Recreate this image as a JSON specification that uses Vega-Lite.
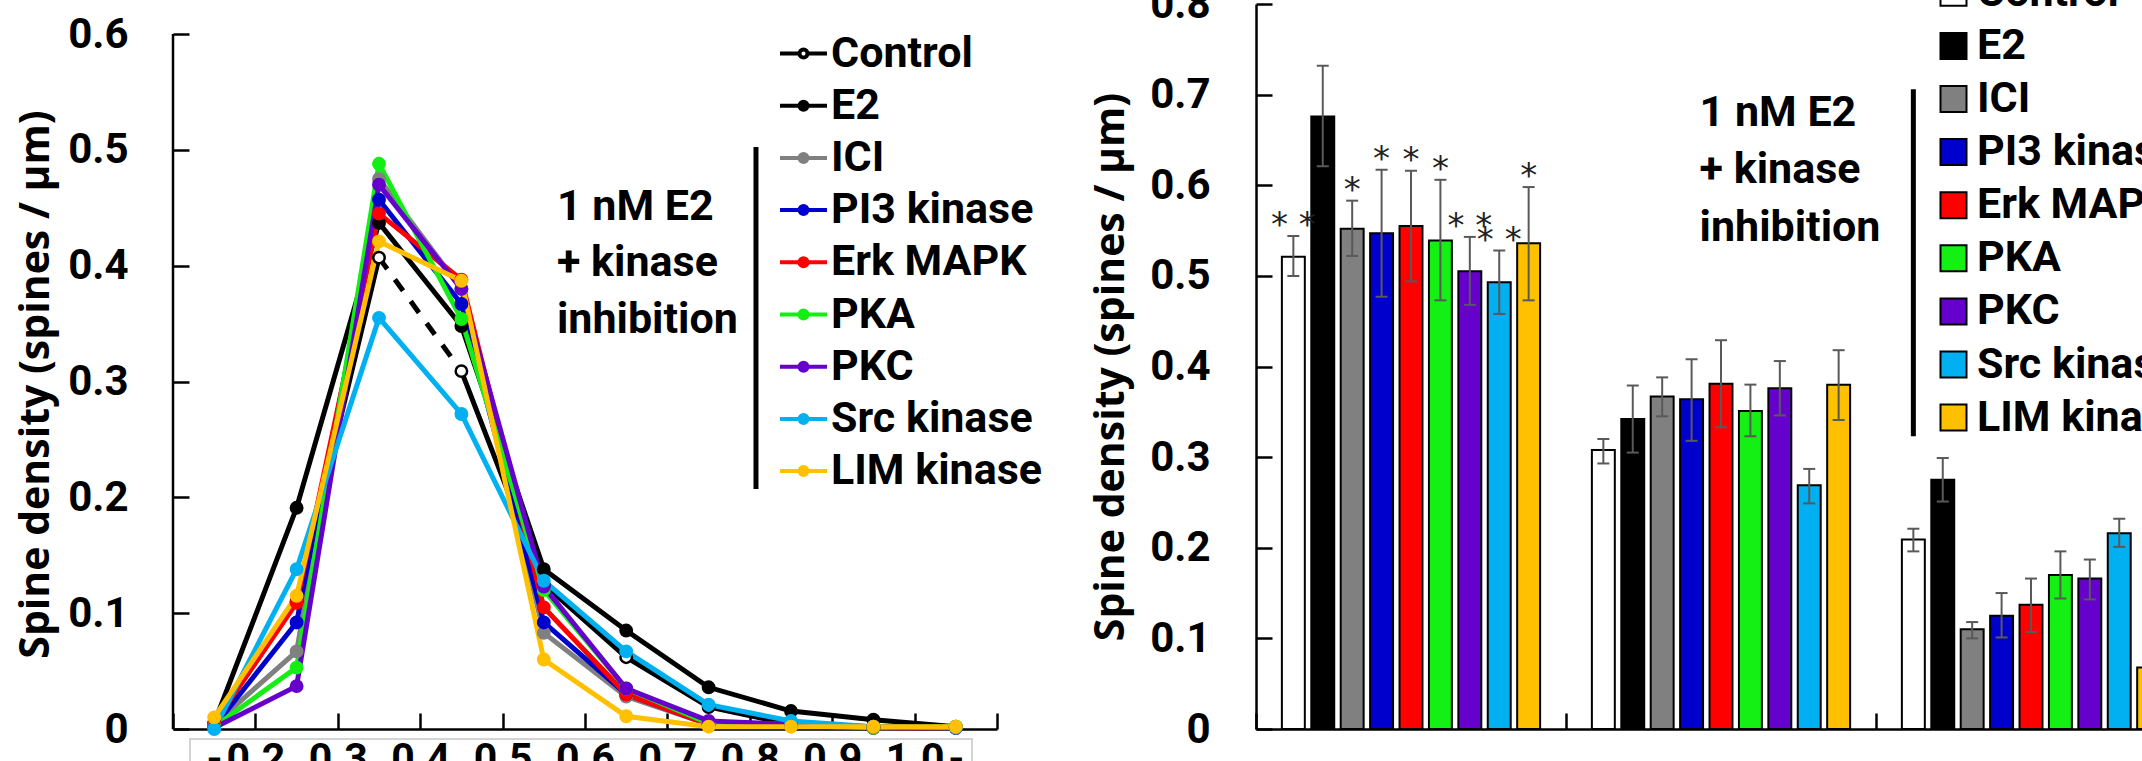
{
  "$schema": "https://vega.github.io/schema/vega-lite/v6.json",
  "autosize": {"type": "none"},
  "padding": {"left": 173, "top": 4, "right": 1969, "bottom": 757},
  "bounds": "flush",
  "spacing": 259,
  "background": "white",
  "config": {
    "view": {"stroke": null},
    "font": "Roboto",
    "axis": {"domainColor": "black", "domainWidth": 2.5, "tickColor": "black", "tickWidth": 2.5, "labelFont": "Roboto", "labelFontWeight": "bold", "labelColor": "black", "grid": false, "titleFont": "Open Sans", "titleFontWeight": "bold", "titleColor": "black"}
  },
  "resolve": {"scale": {"color": "independent"}, "legend": {"color": "independent"}},
  "datasets": {
    "curves": [
      {"series": "Control", "x": 0.15, "y": 0.005, "seg": "a"},
      {"series": "Control", "x": 0.25, "y": 0.11, "seg": "a"},
      {"series": "Control", "x": 0.35, "y": 0.407, "seg": "a"},
      {"series": "Control", "x": 0.45, "y": 0.309, "seg": "b"},
      {"series": "Control", "x": 0.55, "y": 0.125, "seg": "b"},
      {"series": "Control", "x": 0.65, "y": 0.062, "seg": "b"},
      {"series": "Control", "x": 0.75, "y": 0.019, "seg": "b"},
      {"series": "Control", "x": 0.85, "y": 0.004, "seg": "b"},
      {"series": "Control", "x": 0.95, "y": 0.002, "seg": "b"},
      {"series": "Control", "x": 1.05, "y": 0.001, "seg": "b"},
      {"series": "E2", "x": 0.15, "y": 0.005, "seg": "a"},
      {"series": "E2", "x": 0.25, "y": 0.191, "seg": "a"},
      {"series": "E2", "x": 0.35, "y": 0.437, "seg": "a"},
      {"series": "E2", "x": 0.45, "y": 0.348, "seg": "a"},
      {"series": "E2", "x": 0.55, "y": 0.138, "seg": "a"},
      {"series": "E2", "x": 0.65, "y": 0.085, "seg": "a"},
      {"series": "E2", "x": 0.75, "y": 0.036, "seg": "a"},
      {"series": "E2", "x": 0.85, "y": 0.0155, "seg": "a"},
      {"series": "E2", "x": 0.95, "y": 0.008, "seg": "a"},
      {"series": "E2", "x": 1.05, "y": 0.002, "seg": "a"},
      {"series": "ICI", "x": 0.15, "y": 0.004, "seg": "a"},
      {"series": "ICI", "x": 0.25, "y": 0.067, "seg": "a"},
      {"series": "ICI", "x": 0.35, "y": 0.475, "seg": "a"},
      {"series": "ICI", "x": 0.45, "y": 0.38, "seg": "a"},
      {"series": "ICI", "x": 0.55, "y": 0.083, "seg": "a"},
      {"series": "ICI", "x": 0.65, "y": 0.028, "seg": "a"},
      {"series": "ICI", "x": 0.75, "y": 0.004, "seg": "a"},
      {"series": "ICI", "x": 0.85, "y": 0.003, "seg": "a"},
      {"series": "ICI", "x": 0.95, "y": 0.001, "seg": "a"},
      {"series": "ICI", "x": 1.05, "y": 0.001, "seg": "a"},
      {"series": "PI3 kinase", "x": 0.15, "y": 0.002, "seg": "a"},
      {"series": "PI3 kinase", "x": 0.25, "y": 0.092, "seg": "a"},
      {"series": "PI3 kinase", "x": 0.35, "y": 0.457, "seg": "a"},
      {"series": "PI3 kinase", "x": 0.45, "y": 0.367, "seg": "a"},
      {"series": "PI3 kinase", "x": 0.55, "y": 0.092, "seg": "a"},
      {"series": "PI3 kinase", "x": 0.65, "y": 0.03, "seg": "a"},
      {"series": "PI3 kinase", "x": 0.75, "y": 0.004, "seg": "a"},
      {"series": "PI3 kinase", "x": 0.85, "y": 0.003, "seg": "a"},
      {"series": "PI3 kinase", "x": 0.95, "y": 0.001, "seg": "a"},
      {"series": "PI3 kinase", "x": 1.05, "y": 0.001, "seg": "a"},
      {"series": "Erk MAPK", "x": 0.15, "y": 0.005, "seg": "a"},
      {"series": "Erk MAPK", "x": 0.25, "y": 0.109, "seg": "a"},
      {"series": "Erk MAPK", "x": 0.35, "y": 0.445, "seg": "a"},
      {"series": "Erk MAPK", "x": 0.45, "y": 0.388, "seg": "a"},
      {"series": "Erk MAPK", "x": 0.55, "y": 0.105, "seg": "a"},
      {"series": "Erk MAPK", "x": 0.65, "y": 0.03, "seg": "a"},
      {"series": "Erk MAPK", "x": 0.75, "y": 0.004, "seg": "a"},
      {"series": "Erk MAPK", "x": 0.85, "y": 0.003, "seg": "a"},
      {"series": "Erk MAPK", "x": 0.95, "y": 0.001, "seg": "a"},
      {"series": "Erk MAPK", "x": 1.05, "y": 0.001, "seg": "a"},
      {"series": "PKA", "x": 0.15, "y": 0.002, "seg": "a"},
      {"series": "PKA", "x": 0.25, "y": 0.053, "seg": "a"},
      {"series": "PKA", "x": 0.35, "y": 0.488, "seg": "a"},
      {"series": "PKA", "x": 0.45, "y": 0.354, "seg": "a"},
      {"series": "PKA", "x": 0.55, "y": 0.12, "seg": "a"},
      {"series": "PKA", "x": 0.65, "y": 0.035, "seg": "a"},
      {"series": "PKA", "x": 0.75, "y": 0.005, "seg": "a"},
      {"series": "PKA", "x": 0.85, "y": 0.004, "seg": "a"},
      {"series": "PKA", "x": 0.95, "y": 0.001, "seg": "a"},
      {"series": "PKA", "x": 1.05, "y": 0.002, "seg": "a"},
      {"series": "PKC", "x": 0.15, "y": 0.001, "seg": "a"},
      {"series": "PKC", "x": 0.25, "y": 0.037, "seg": "a"},
      {"series": "PKC", "x": 0.35, "y": 0.47, "seg": "a"},
      {"series": "PKC", "x": 0.45, "y": 0.38, "seg": "a"},
      {"series": "PKC", "x": 0.55, "y": 0.123, "seg": "a"},
      {"series": "PKC", "x": 0.65, "y": 0.035, "seg": "a"},
      {"series": "PKC", "x": 0.75, "y": 0.007, "seg": "a"},
      {"series": "PKC", "x": 0.85, "y": 0.004, "seg": "a"},
      {"series": "PKC", "x": 0.95, "y": 0.002, "seg": "a"},
      {"series": "PKC", "x": 1.05, "y": 0.001, "seg": "a"},
      {"series": "Src kinase", "x": 0.15, "y": 0.0, "seg": "a"},
      {"series": "Src kinase", "x": 0.25, "y": 0.138, "seg": "a"},
      {"series": "Src kinase", "x": 0.35, "y": 0.355, "seg": "a"},
      {"series": "Src kinase", "x": 0.45, "y": 0.272, "seg": "a"},
      {"series": "Src kinase", "x": 0.55, "y": 0.128, "seg": "a"},
      {"series": "Src kinase", "x": 0.65, "y": 0.067, "seg": "a"},
      {"series": "Src kinase", "x": 0.75, "y": 0.021, "seg": "a"},
      {"series": "Src kinase", "x": 0.85, "y": 0.007, "seg": "a"},
      {"series": "Src kinase", "x": 0.95, "y": 0.002, "seg": "a"},
      {"series": "Src kinase", "x": 1.05, "y": 0.001, "seg": "a"},
      {"series": "LIM kinase", "x": 0.15, "y": 0.01, "seg": "a"},
      {"series": "LIM kinase", "x": 0.25, "y": 0.115, "seg": "a"},
      {"series": "LIM kinase", "x": 0.35, "y": 0.421, "seg": "a"},
      {"series": "LIM kinase", "x": 0.45, "y": 0.387, "seg": "a"},
      {"series": "LIM kinase", "x": 0.55, "y": 0.06, "seg": "a"},
      {"series": "LIM kinase", "x": 0.65, "y": 0.011, "seg": "a"},
      {"series": "LIM kinase", "x": 0.75, "y": 0.002, "seg": "a"},
      {"series": "LIM kinase", "x": 0.85, "y": 0.002, "seg": "a"},
      {"series": "LIM kinase", "x": 0.95, "y": 0.002, "seg": "a"},
      {"series": "LIM kinase", "x": 1.05, "y": 0.002, "seg": "a"}
    ],
    "bars": [
      {"group": "Thin", "series": "Control", "value": 0.521, "lo": 0.5, "hi": 0.544, "sig": "* *"},
      {"group": "Thin", "series": "E2", "value": 0.676, "lo": 0.621, "hi": 0.732, "sig": ""},
      {"group": "Thin", "series": "ICI", "value": 0.552, "lo": 0.522, "hi": 0.583, "sig": "*"},
      {"group": "Thin", "series": "PI3 kinase", "value": 0.547, "lo": 0.477, "hi": 0.617, "sig": "*"},
      {"group": "Thin", "series": "Erk MAPK", "value": 0.555, "lo": 0.494, "hi": 0.616, "sig": "*"},
      {"group": "Thin", "series": "PKA", "value": 0.539, "lo": 0.473, "hi": 0.606, "sig": "*"},
      {"group": "Thin", "series": "PKC", "value": 0.505, "lo": 0.468, "hi": 0.543, "sig": "* *"},
      {"group": "Thin", "series": "Src kinase", "value": 0.493, "lo": 0.458, "hi": 0.528, "sig": "* *"},
      {"group": "Thin", "series": "LIM kinase", "value": 0.536, "lo": 0.473, "hi": 0.598, "sig": "*"},
      {"group": "Mushroom", "series": "Control", "value": 0.308, "lo": 0.293, "hi": 0.32, "sig": ""},
      {"group": "Mushroom", "series": "E2", "value": 0.342, "lo": 0.305, "hi": 0.379, "sig": ""},
      {"group": "Mushroom", "series": "ICI", "value": 0.367, "lo": 0.345, "hi": 0.388, "sig": ""},
      {"group": "Mushroom", "series": "PI3 kinase", "value": 0.364, "lo": 0.318, "hi": 0.408, "sig": ""},
      {"group": "Mushroom", "series": "Erk MAPK", "value": 0.381, "lo": 0.333, "hi": 0.429, "sig": ""},
      {"group": "Mushroom", "series": "PKA", "value": 0.351, "lo": 0.323, "hi": 0.38, "sig": ""},
      {"group": "Mushroom", "series": "PKC", "value": 0.376, "lo": 0.346, "hi": 0.406, "sig": ""},
      {"group": "Mushroom", "series": "Src kinase", "value": 0.269, "lo": 0.249, "hi": 0.287, "sig": ""},
      {"group": "Mushroom", "series": "LIM kinase", "value": 0.38, "lo": 0.341, "hi": 0.418, "sig": ""},
      {"group": "Stubby", "series": "Control", "value": 0.209, "lo": 0.196, "hi": 0.221, "sig": ""},
      {"group": "Stubby", "series": "E2", "value": 0.275, "lo": 0.251, "hi": 0.299, "sig": ""},
      {"group": "Stubby", "series": "ICI", "value": 0.11, "lo": 0.1, "hi": 0.118, "sig": ""},
      {"group": "Stubby", "series": "PI3 kinase", "value": 0.125, "lo": 0.101, "hi": 0.15, "sig": ""},
      {"group": "Stubby", "series": "Erk MAPK", "value": 0.137, "lo": 0.107, "hi": 0.166, "sig": ""},
      {"group": "Stubby", "series": "PKA", "value": 0.17, "lo": 0.144, "hi": 0.196, "sig": ""},
      {"group": "Stubby", "series": "PKC", "value": 0.166, "lo": 0.143, "hi": 0.187, "sig": ""},
      {"group": "Stubby", "series": "Src kinase", "value": 0.216, "lo": 0.201, "hi": 0.232, "sig": ""},
      {"group": "Stubby", "series": "LIM kinase", "value": 0.068, "lo": 0.055, "hi": 0.081, "sig": ""}
    ]
  },
  "hconcat": [
    {
      "width": 824,
      "height": 725,
      "layer": [
        {
          "data": {"name": "curves"},
          "mark": {"type": "line", "strokeWidth": 5},
          "encoding": {
            "x": {"field": "x", "type": "quantitative",
              "scale": {"domain": [0.1, 1.1], "nice": false, "zero": false},
              "axis": {
                "title": null,
                "values": [0.1, 0.15, 0.2, 0.3, 0.4, 0.5, 0.6, 0.7, 0.8, 0.9, 1.0, 1.05, 1.1],
                "labelExpr": "(datum.value < 0.12 || datum.value > 1.08) ? '' : ((abs(datum.value - 0.15) < 0.001 || abs(datum.value - 1.05) < 0.001) ? '-' : format(datum.value, '.1f'))",
                "tickOpacity": {"condition": {"test": "abs(datum.value - 0.15) < 0.001 || abs(datum.value - 1.05) < 0.001", "value": 0}, "value": 1},
                "tickSize": -16,
                "labelPadding": 26,
                "labelFontSize": 41,
                "labelFlush": false,
                "labelOverlap": false,
                "labelBound": false
              }
            },
            "y": {"field": "y", "type": "quantitative",
              "scale": {"domain": [0, 0.626], "nice": false},
              "axis": {
                "values": [0, 0.1, 0.2, 0.3, 0.4, 0.5, 0.6],
                "domain": false,
                "tickSize": -16,
                "labelPadding": 61,
                "labelFontSize": 42,
                "labelExpr": "datum.value == 0 ? '0' : format(datum.value, '.1f')",
                "title": "Spine density (spines / µm)",
                "titleFontSize": 41,
                "titleX": -125,
                "titleY": 380,
                "titleBaseline": "alphabetic"
              }
            },
            "color": {"field": "series", "type": "nominal",
              "scale": {"domain": ["Control", "E2", "ICI", "PI3 kinase", "Erk MAPK", "PKA", "PKC", "Src kinase", "LIM kinase"],
                        "range": ["#000000", "#000000", "#808080", "#0000cc", "#ff0000", "#14ee14", "#6600cc", "#00b0f0", "#ffc000"]},
              "legend": {
                "orient": "none", "legendX": 605, "legendY": 24, "title": null, "padding": 0,
                "symbolType": "M-1,0H-0.17M0.17,0H1M-0.17,0A0.17,0.17,0,1,1,0.17,0A0.17,0.17,0,1,1,-0.17,0Z",
                "symbolSize": 2209, "symbolStrokeWidth": 4,
                "labelFont": "Roboto", "labelFontWeight": "bold", "labelFontSize": 43, "labelColor": "black",
                "labelOffset": 2, "rowPadding": 4.2, "labelLimit": 0,
                "encode": {"symbols": {"update": {"fill": {"signal": "['white','black','#808080','#0000cc','#ff0000','#14ee14','#6600cc','#00b0f0','#ffc000'][indexof(['Control','E2','ICI','PI3 kinase','Erk MAPK','PKA','PKC','Src kinase','LIM kinase'], datum.value)]"}, "opacity": {"value": 1}}}}
              }
            },
            "detail": {"field": "seg"}
          }
        },
        {
          "data": {"name": "curves"},
          "transform": [{"filter": "datum.series === 'Control' && (abs(datum.x - 0.35) < 0.001 || abs(datum.x - 0.45) < 0.001)"}],
          "mark": {"type": "line", "color": "black", "strokeWidth": 5, "strokeDash": [14, 13]},
          "encoding": {
            "x": {"field": "x", "type": "quantitative"},
            "y": {"field": "y", "type": "quantitative"}
          }
        },
        {
          "data": {"name": "curves"},
          "mark": {"type": "point", "shape": "circle", "filled": true, "size": 130, "strokeWidth": 2.5, "opacity": 1},
          "encoding": {
            "x": {"field": "x", "type": "quantitative"},
            "y": {"field": "y", "type": "quantitative"},
            "fill": {"field": "series", "type": "nominal", "legend": null,
              "scale": {"domain": ["Control", "E2", "ICI", "PI3 kinase", "Erk MAPK", "PKA", "PKC", "Src kinase", "LIM kinase"],
                        "range": ["#ffffff", "#000000", "#808080", "#0000cc", "#ff0000", "#14ee14", "#6600cc", "#00b0f0", "#ffc000"]}},
            "stroke": {"field": "series", "type": "nominal", "legend": null,
              "scale": {"domain": ["Control", "E2", "ICI", "PI3 kinase", "Erk MAPK", "PKA", "PKC", "Src kinase", "LIM kinase"],
                        "range": ["#000000", "#000000", "#808080", "#0000cc", "#ff0000", "#14ee14", "#6600cc", "#00b0f0", "#ffc000"]}}
          }
        },
        {
          "data": {"values": [{"x": 0.1, "y": 0, "y2": 0.6}]},
          "mark": {"type": "rule", "strokeWidth": 2.5, "color": "black"},
          "encoding": {
            "x": {"field": "x", "type": "quantitative"},
            "y": {"field": "y", "type": "quantitative"},
            "y2": {"field": "y2"}
          }
        },
        {
          "data": {"values": [{"x": 0.8075, "y": 0.5025, "y2": 0.2072}]},
          "mark": {"type": "rule", "strokeWidth": 5, "color": "black"},
          "encoding": {
            "x": {"field": "x", "type": "quantitative"},
            "y": {"field": "y", "type": "quantitative"},
            "y2": {"field": "y2"}
          }
        },
        {
          "data": {"values": [{"x": 0.566, "y": 0.4691, "label": "1 nM E2\n+ kinase\ninhibition"}]},
          "mark": {"type": "text", "align": "left", "baseline": "top", "lineBreak": "\n", "lineHeight": 56.5, "fontSize": 43, "fontWeight": "bold", "font": "Roboto", "color": "black"},
          "encoding": {
            "x": {"field": "x", "type": "quantitative"},
            "y": {"field": "y", "type": "quantitative"},
            "text": {"field": "label"}
          }
        },
        {
          "data": {"values": [{"x": 0.1206, "x2": 1.0697, "y": -0.0086, "y2": -0.2}]},
          "mark": {"type": "rect", "fill": null, "stroke": "#d4d4d4", "strokeWidth": 2},
          "encoding": {
            "x": {"field": "x", "type": "quantitative"},
            "x2": {"field": "x2"},
            "y": {"field": "y", "type": "quantitative"},
            "y2": {"field": "y2"}
          }
        }
      ]
    },
    {
      "width": 930,
      "height": 725,
      "layer": [
        {
          "data": {"name": "bars"},
          "mark": {"type": "bar", "stroke": "black", "strokeWidth": 2},
          "encoding": {
            "x": {"field": "group", "type": "nominal",
              "scale": {"domain": ["Thin", "Mushroom", "Stubby"], "paddingInner": 0, "paddingOuter": 0},
              "axis": {"labels": false, "title": null, "bandPosition": 0, "tickSize": -16}
            },
            "xOffset": {"field": "series", "type": "nominal",
              "scale": {"domain": ["Control", "E2", "ICI", "PI3 kinase", "Erk MAPK", "PKA", "PKC", "Src kinase", "LIM kinase"], "paddingInner": 0.22, "paddingOuter": 0.88}},
            "y": {"field": "value", "type": "quantitative",
              "scale": {"domain": [0, 0.8], "nice": false},
              "axis": {
                "values": [0, 0.1, 0.2, 0.3, 0.4, 0.5, 0.6, 0.7, 0.8],
                "tickSize": -16,
                "labelPadding": 62,
                "labelFontSize": 42,
                "labelExpr": "datum.value == 0 ? '0' : format(datum.value, '.1f')",
                "title": "Spine density (spines / µm)",
                "titleFontSize": 41,
                "titleX": -133,
                "titleBaseline": "alphabetic"
              }
            },
            "color": {"field": "series", "type": "nominal",
              "scale": {"domain": ["Control", "E2", "ICI", "PI3 kinase", "Erk MAPK", "PKA", "PKC", "Src kinase", "LIM kinase"],
                        "range": ["#ffffff", "#000000", "#808080", "#0000cc", "#ff0000", "#14f014", "#6600cc", "#00b0f0", "#ffc000"]},
              "legend": {
                "orient": "none", "legendX": 676, "legendY": -32.7, "title": null, "padding": 0,
                "symbolType": "square", "symbolSize": 676, "symbolStrokeColor": "black", "symbolStrokeWidth": 2,
                "labelFont": "Roboto", "labelFontWeight": "bold", "labelFontSize": 43, "labelColor": "black",
                "labelOffset": 2, "rowPadding": 9.1, "labelLimit": 0
              }
            }
          }
        },
        {
          "data": {"name": "bars"},
          "mark": {"type": "rule", "color": "#595959", "strokeWidth": 2},
          "encoding": {
            "x": {"field": "group", "type": "nominal"},
            "xOffset": {"field": "series", "type": "nominal"},
            "y": {"field": "lo", "type": "quantitative"},
            "y2": {"field": "hi"}
          }
        },
        {
          "data": {"name": "bars"},
          "mark": {"type": "tick", "color": "#595959", "thickness": 2, "size": 12, "opacity": 1},
          "encoding": {
            "x": {"field": "group", "type": "nominal"},
            "xOffset": {"field": "series", "type": "nominal"},
            "y": {"field": "lo", "type": "quantitative"}
          }
        },
        {
          "data": {"name": "bars"},
          "mark": {"type": "tick", "color": "#595959", "thickness": 2, "size": 12, "opacity": 1},
          "encoding": {
            "x": {"field": "group", "type": "nominal"},
            "xOffset": {"field": "series", "type": "nominal"},
            "y": {"field": "hi", "type": "quantitative"}
          }
        },
        {
          "data": {"name": "bars"},
          "transform": [{"filter": "datum.sig != ''"}],
          "mark": {"type": "text", "baseline": "alphabetic", "dy": 0, "fontSize": 34, "font": "DejaVu Sans", "color": "#222222"},
          "encoding": {
            "x": {"field": "group", "type": "nominal"},
            "xOffset": {"field": "series", "type": "nominal"},
            "y": {"field": "hi", "type": "quantitative"},
            "text": {"field": "sig"}
          }
        },
        {
          "data": {"values": [{"group": "Mushroom", "series": "PI3 kinase", "y": 0.7033, "label": "1 nM E2\n+ kinase\ninhibition"}]},
          "mark": {"type": "text", "align": "left", "baseline": "top", "dx": 8, "lineBreak": "\n", "lineHeight": 57.5, "fontSize": 43, "fontWeight": "bold", "font": "Roboto", "color": "black"},
          "encoding": {
            "x": {"field": "group", "type": "nominal"},
            "xOffset": {"field": "series", "type": "nominal"},
            "y": {"field": "y", "type": "quantitative"},
            "text": {"field": "label"}
          }
        },
        {
          "data": {"values": [{"group": "Stubby", "series": "Control", "y": 0.706, "y2": 0.323}]},
          "mark": {"type": "rule", "strokeWidth": 5, "color": "black"},
          "encoding": {
            "x": {"field": "group", "type": "nominal"},
            "xOffset": {"field": "series", "type": "nominal"},
            "y": {"field": "y", "type": "quantitative"},
            "y2": {"field": "y2"}
          }
        }
      ]
    }
  ]
}
